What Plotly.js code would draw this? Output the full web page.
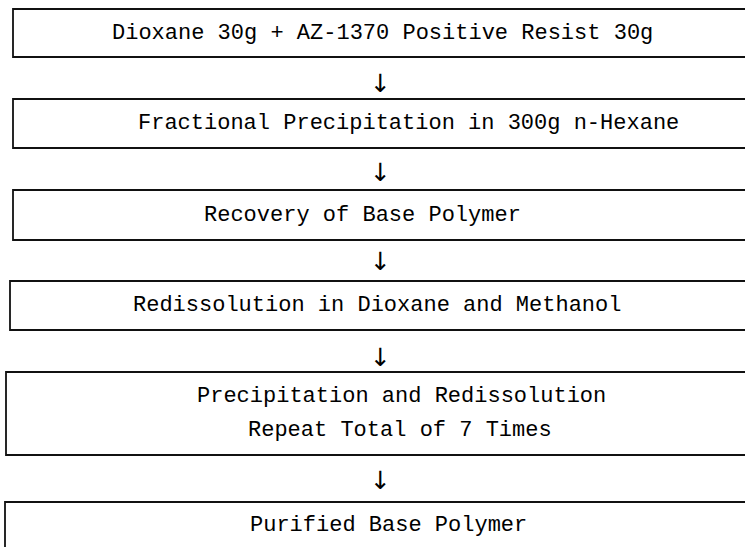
<!DOCTYPE html>
<html>
<head>
<meta charset="utf-8">
<script src="https://cdn.plot.ly/plotly-3.0.1.min.js"></script>
<style>html,body{margin:0;padding:0;background:#fff;}</style>
</head>
<body>
<div id="chart" style="width:745px;height:547px;"></div>
<script>
// Flowchart content
const stepLabels = [
  "Dioxane 30g + AZ-1370 Positive Resist 30g",
  "Fractional Precipitation in 300g n-Hexane",
  "Recovery of Base Polymer",
  "Redissolution in Dioxane and Methanol",
  "Precipitation and Redissolution<br>Repeat Total of 7 Times",
  "Purified Base Polymer"
];
const arrowLabel = "↓";

// Layout geometry (pixel-like coordinates)
const boxTop    = [9, 99, 190, 281, 372, 502];
const boxBottom = [57, 148, 240, 330, 455, 570];
const boxLeft   = [13, 13, 13, 10, 6, 5];
const textX     = [382, 408, 362, 377, 400, 388];
const arrowY    = [83, 172, 261, 357, 480];
const arrowX = 380;
const lineGap = 34;

const shapes = [];
const annotations = [];
const fontFam = "Liberation Mono, DejaVu Sans Mono, monospace";

for (let i = 0; i < stepLabels.length; i++) {
  shapes.push({
    type: "rect", xref: "x", yref: "y",
    x0: boxLeft[i], x1: 760, y0: boxTop[i], y1: boxBottom[i],
    line: {color: "#111", width: 1.8}, fillcolor: "rgba(0,0,0,0)"
  });
  const lines = stepLabels[i].split("<br>");
  const yc = i === 5 ? 525 : (boxTop[i] + boxBottom[i]) / 2;
  lines.forEach((ln, k) => {
    const lx = lines.length > 1 ? [401, 400][k] : textX[i];
    annotations.push({
      x: lx, y: yc + (k - (lines.length - 1) / 2) * lineGap,
      xref: "x", yref: "y", text: ln, showarrow: false,
      font: {family: fontFam, size: 22, color: "#000"},
      xanchor: "center", yanchor: "middle"
    });
  });
}
for (let j = 0; j < arrowY.length; j++) {
  annotations.push({
    x: arrowX, y: arrowY[j], xref: "x", yref: "y", text: arrowLabel,
    showarrow: false, font: {family: "DejaVu Sans, sans-serif", size: 25, color: "#000"},
    xanchor: "center", yanchor: "middle"
  });
}

const layout = {
  width: 745, height: 547,
  margin: {l: 0, r: 0, t: 0, b: 0},
  paper_bgcolor: "#fff", plot_bgcolor: "#fff",
  showlegend: false,
  xaxis: {range: [0, 745], visible: false, fixedrange: true},
  yaxis: {range: [547, 0], visible: false, fixedrange: true},
  shapes: shapes,
  annotations: annotations
};

Plotly.newPlot("chart", [], layout, {staticPlot: true, displayModeBar: false});
</script>
</body>
</html>
